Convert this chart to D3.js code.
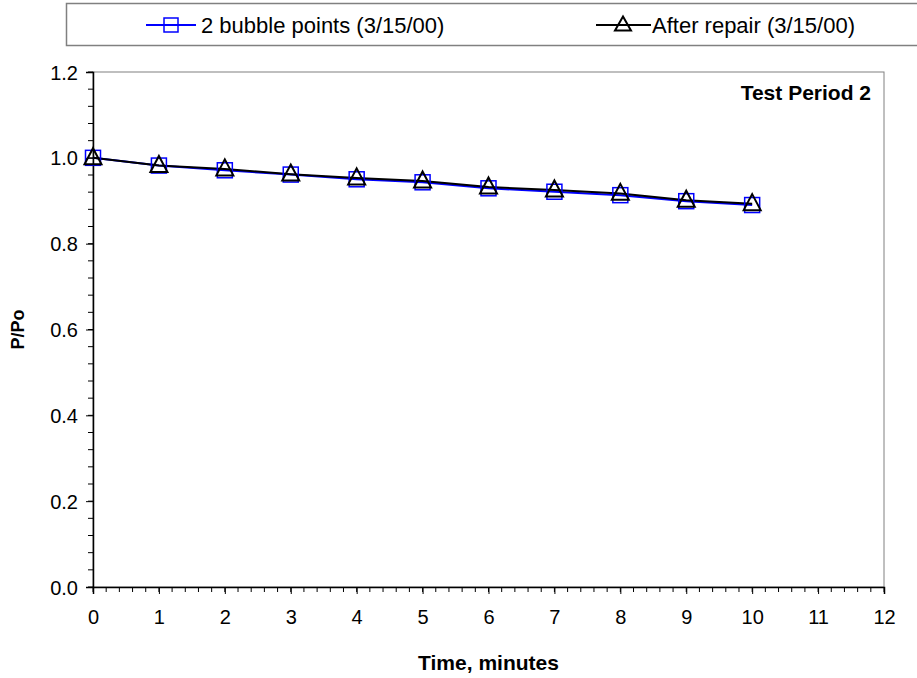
<!DOCTYPE html>
<html>
<head>
<meta charset="utf-8">
<script src="https://cdn.jsdelivr.net/npm/d3@7"></script>
<style>
  body { margin: 0; background: #fff; }
  svg text { font-family: "Liberation Sans", Arial, sans-serif; fill: #000; }
</style>
</head>
<body>
<div id="chart"></div>
<script>
// data
var times = [0, 1, 2, 3, 4, 5, 6, 7, 8, 9, 10];
var bubbleVals = [1.000, 0.982, 0.971, 0.961, 0.950, 0.943, 0.929, 0.921, 0.913, 0.899, 0.890];
var repairVals = [1.000, 0.982, 0.974, 0.962, 0.953, 0.946, 0.932, 0.925, 0.917, 0.901, 0.893];
var seriesNames = ["2 bubble points (3/15/00)", "After repair (3/15/00)"];
var xTicks = [0, 1, 2, 3, 4, 5, 6, 7, 8, 9, 10, 11, 12];
var yTicks = [0.0, 0.2, 0.4, 0.6, 0.8, 1.0, 1.2];

var width = 917, height = 678;
var margin = { top: 72, right: 33, bottom: 91, left: 93 };
var plotW = width - margin.left - margin.right,
    plotH = height - margin.top - margin.bottom;

var svg = d3.select("#chart").append("svg")
    .attr("width", width)
    .attr("height", height);

var x = d3.scaleLinear().domain([0, 12]).range([0, plotW]);
var y = d3.scaleLinear().domain([0, 1.2]).range([plotH, 0]);

var g = svg.append("g")
    .attr("transform", "translate(" + margin.left + "," + margin.top + ")");

// frame (top / right in grey)
g.append("rect")
    .attr("width", plotW)
    .attr("height", plotH)
    .style("fill", "none")
    .style("stroke", "#808080")
    .style("stroke-width", 1);

// minor ticks
var xMinor = d3.range(0, 12.001, 0.2);
g.append("g").selectAll("line")
    .data(xMinor)
    .enter().append("line")
    .attr("x1", function(d) { return x(d); })
    .attr("x2", function(d) { return x(d); })
    .attr("y1", plotH)
    .attr("y2", plotH + 5)
    .style("stroke", "#000");

var yMinor = d3.range(0, 1.2001, 0.04);
g.append("g").selectAll("line")
    .data(yMinor)
    .enter().append("line")
    .attr("x1", -5)
    .attr("x2", 0)
    .attr("y1", function(d) { return y(d); })
    .attr("y2", function(d) { return y(d); })
    .style("stroke", "#000");

// axes
var xAxis = g.append("g")
    .attr("transform", "translate(0," + plotH + ")")
    .call(d3.axisBottom(x).tickValues(xTicks).tickSize(7).tickPadding(16).tickFormat(d3.format("d")));
var yAxis = g.append("g")
    .call(d3.axisLeft(y).tickValues(yTicks).tickSize(7).tickPadding(8).tickFormat(d3.format(".1f")));

[xAxis, yAxis].forEach(function(a) {
    a.select(".domain").style("stroke", "#000").style("stroke-width", 1.5);
    a.selectAll(".tick line").style("stroke", "#000");
    a.selectAll(".tick text")
        .style("font-family", "Liberation Sans, Arial, sans-serif")
        .style("font-size", "20px")
        .style("fill", "#000");
});
yAxis.selectAll(".tick text").attr("dy", "0.35em");

// lines
var line = d3.line()
    .x(function(d, i) { return x(times[i]); })
    .y(function(d) { return y(d); });

g.append("path")
    .datum(bubbleVals)
    .attr("d", line)
    .style("fill", "none")
    .style("stroke", "#0000ff")
    .style("stroke-width", 2);

g.append("path")
    .datum(repairVals)
    .attr("d", line)
    .style("fill", "none")
    .style("stroke", "#000")
    .style("stroke-width", 2);

// markers
var sq = 15;
g.append("g").selectAll("rect")
    .data(bubbleVals)
    .enter().append("rect")
    .attr("x", function(d, i) { return x(times[i]) - sq / 2; })
    .attr("y", function(d) { return y(d) - sq / 2; })
    .attr("width", sq)
    .attr("height", sq)
    .style("fill", "none")
    .style("stroke", "#0000ff")
    .style("stroke-width", 1.5);

function triPath(cx, cy, w, h) {
    return "M" + cx + "," + (cy - h * 0.6) + "L" + (cx + w / 2) + "," + (cy + h * 0.4) +
        "L" + (cx - w / 2) + "," + (cy + h * 0.4) + "Z";
}

g.append("g").selectAll("path")
    .data(repairVals)
    .enter().append("path")
    .attr("d", function(d, i) { return triPath(x(times[i]), y(d), 17, 16); })
    .style("fill", "none")
    .style("stroke", "#000")
    .style("stroke-width", 2);

// annotation
g.append("text")
    .attr("x", plotW - 13)
    .attr("y", 28)
    .attr("text-anchor", "end")
    .style("font-size", "21px")
    .style("font-weight", "bold")
    .text("Test Period 2");

// axis titles
svg.append("text")
    .attr("x", margin.left + plotW / 2)
    .attr("y", 670)
    .attr("text-anchor", "middle")
    .style("font-size", "21px")
    .style("font-weight", "bold")
    .text("Time, minutes");

svg.append("text")
    .attr("transform", "translate(24," + (margin.top + plotH / 2) + ") rotate(-90)")
    .attr("text-anchor", "middle")
    .style("font-size", "18px")
    .style("font-weight", "bold")
    .text("P/Po");

// legend
var legend = svg.append("g");
legend.append("rect")
    .attr("x", 66.5)
    .attr("y", 3.5)
    .attr("width", 870)
    .attr("height", 42)
    .style("fill", "#fff")
    .style("stroke", "#808080")
    .style("stroke-width", 1.5);

var legY = 25;
legend.append("line")
    .attr("x1", 146).attr("x2", 196).attr("y1", legY).attr("y2", legY)
    .style("stroke", "#0000ff").style("stroke-width", 2);
legend.append("rect")
    .attr("x", 171 - 7).attr("y", legY - 7).attr("width", 14).attr("height", 14)
    .style("fill", "none").style("stroke", "#0000ff").style("stroke-width", 1.5);
legend.append("text")
    .attr("x", 201).attr("y", legY).attr("dy", "0.35em")
    .style("font-size", "22px")
    .text(seriesNames[0]);

legend.append("line")
    .attr("x1", 596).attr("x2", 651).attr("y1", legY).attr("y2", legY)
    .style("stroke", "#000").style("stroke-width", 2);
legend.append("path")
    .attr("d", triPath(623, legY, 16, 14))
    .style("fill", "none").style("stroke", "#000").style("stroke-width", 2);
legend.append("text")
    .attr("x", 652).attr("y", legY).attr("dy", "0.35em")
    .style("font-size", "22px")
    .text(seriesNames[1]);
</script>
</body>
</html>
